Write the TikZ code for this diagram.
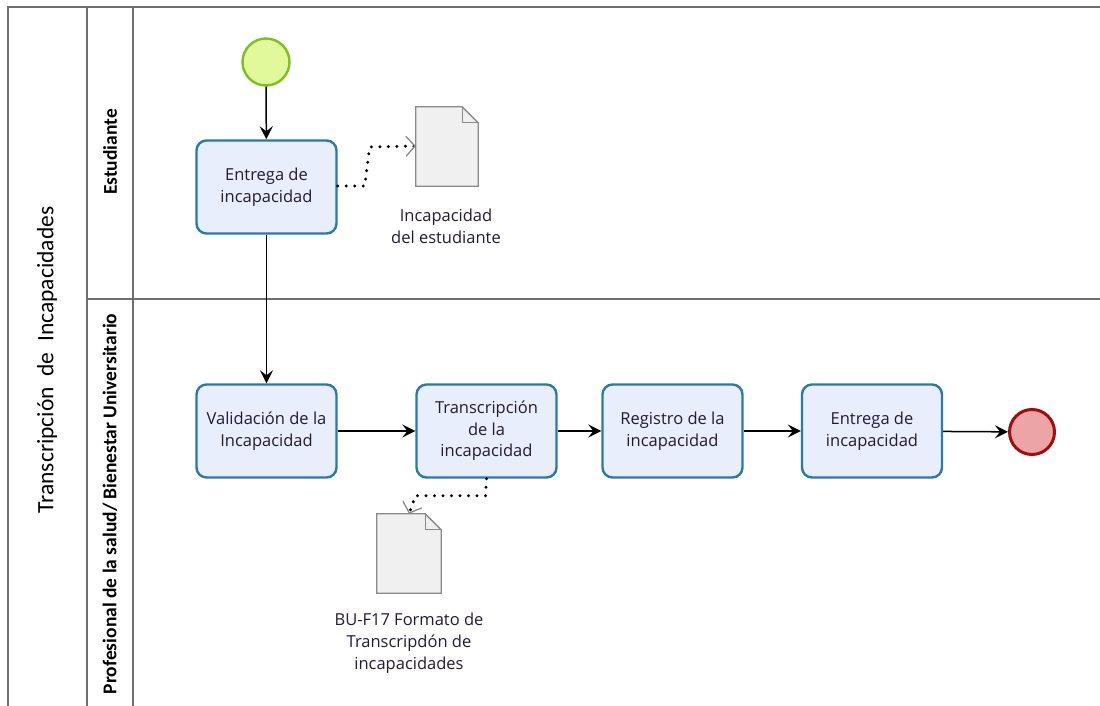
\documentclass[tikz,border=0pt]{standalone}
\usepackage{fontspec}
\setmainfont{Open Sans}
\newfontfamily\calib{Carlito}
\usetikzlibrary{arrows.meta,calc}
\definecolor{frameline}{HTML}{6E6E6E}
\definecolor{taskfill}{HTML}{E9EEFC}
\definecolor{taskdraw}{HTML}{2A79A8}
\definecolor{startfill}{HTML}{E1F99A}
\definecolor{startdraw}{HTML}{7CBF1F}
\definecolor{endfill}{HTML}{ECA4A6}
\definecolor{enddraw}{HTML}{A00D0D}
\definecolor{docfill}{HTML}{F0F0F0}
\definecolor{docdraw}{HTML}{8A8A8A}
\definecolor{txt}{HTML}{231A33}
\tikzset{
  frame/.style={draw=frameline, line width=1.3pt},
  task/.style={draw=taskdraw, fill=taskfill, line width=2.4pt, rounded corners=10pt,
    minimum width=140pt, minimum height=93pt, align=center, text=txt,
    font=\fontsize{16.5}{21.5}\selectfont, inner sep=2pt},
  flow/.style={draw=black, line width=1.5pt, -{Stealth[length=13pt,width=13pt,inset=5pt]}},
  assoc/.style={draw=black, line width=3.3pt, line cap=round, dash pattern=on 0pt off 8.5pt,
    -{Straight Barb[length=9pt,width=20pt,line width=1.3pt,color=docdraw]}},
  docbox/.style={minimum width=62pt, minimum height=79pt, inner sep=0pt},
  docshape/.style={draw=docdraw, fill=docfill, line width=1.3pt, line join=miter},
  doclabel/.style={align=center, text=txt, font=\fontsize{16.5}{22}\selectfont},
  lanelabel/.style={rotate=90, font=\calib\bfseries\fontsize{19.5}{22}\selectfont, text=black},
}
\begin{document}
\begin{tikzpicture}[x=1pt,y=1pt]
\useasboundingbox (0,0) rectangle (1100,-706);
% frame
\draw[frame] (1100,-7) -- (8,-7) -- (8,-706);
\draw[frame] (87,-7) -- (87,-706);
\draw[frame] (133,-7) -- (133,-706);
\draw[frame] (87,-299) -- (1100,-299);
% labels
\node[rotate=90, font=\calib\fontsize{23.5}{26}\selectfont] (pool) at (47,-360) {Transcripción\ \ de\ \ Incapacidades};
\node[lanelabel] (lane1) at (110,-152) {Estudiante};
\node[lanelabel] (lane2) at (110,-504) {Profesional de la salud/ Bienestar Universitario};
% events
\node[circle, draw=startdraw, fill=startfill, line width=2.4pt, minimum size=47pt, inner sep=0pt] (start) at (266,-62) {};
\node[circle, draw=enddraw, fill=endfill, line width=3pt, minimum size=45pt, inner sep=0pt] (end) at (1032,-432) {};
% tasks
\node[task] (t1) at (266.5,-187) {Entrega de\\incapacidad};
\node[task] (t2) at (266.5,-431) {Validación de la\\Incapacidad};
\node[task] (t3) at (486.5,-431) {Transcripción\\de la\\incapacidad};
\node[task] (t4) at (672.5,-431) {Registro de la\\incapacidad};
\node[task] (t5) at (872,-431) {Entrega de\\incapacidad};
% data objects
\node[docbox] (d1) at (447,-146.5) {};
\draw[docshape] (d1.north west) -- ($(d1.north east)+(-16,0)$) -- ($(d1.north east)+(0,-16)$) -- (d1.south east) -- (d1.south west) -- cycle;
\draw[docshape, fill=none] ($(d1.north east)+(-16,0)$) -- ($(d1.north east)+(-16,-16)$) -- ($(d1.north east)+(0,-16)$);
\node[doclabel] (d1l) at (446,-226) {Incapacidad\\del estudiante};
\node[docbox, minimum width=64pt] (d2) at (409,-553.5) {};
\draw[docshape] (d2.north west) -- ($(d2.north east)+(-16,0)$) -- ($(d2.north east)+(0,-16)$) -- (d2.south east) -- (d2.south west) -- cycle;
\draw[docshape, fill=none] ($(d2.north east)+(-16,0)$) -- ($(d2.north east)+(-16,-16)$) -- ($(d2.north east)+(0,-16)$);
\node[doclabel] (d2l) at (409,-643) {BU-F17 Formato de\\Transcripdón de\\incapacidades};
% flows
\draw[flow] (start) -- (t1);
\draw[flow] (t1) -- (t2);
\draw[flow] (t2) -- (t3);
\draw[flow] (t3) -- (t4);
\draw[flow] (t4) -- (t5);
\draw[flow] (t5) -- (end);
% associations
\draw[assoc] ($(t1.east)+(0,1)$) -- ++(27,0) -- ++(5,39) -- ($(d1.west)+(0,0.5)$);
\draw[assoc] (t3.south) -- ++(-1,-17) -- ++(-70,0) -- (d2.north);
\end{tikzpicture}
\end{document}
